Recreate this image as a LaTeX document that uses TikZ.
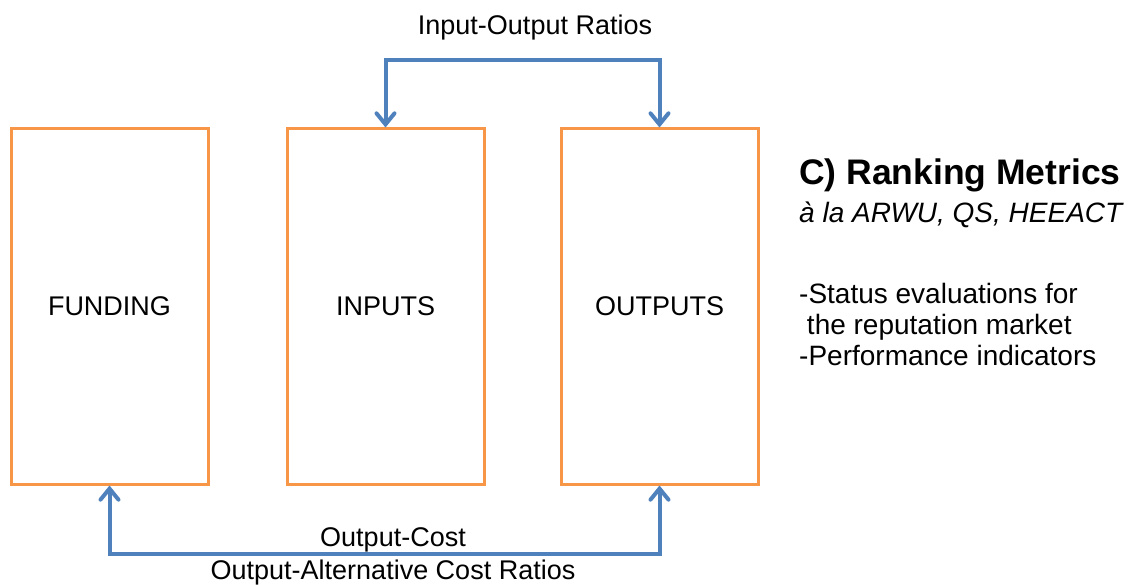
\documentclass[tikz,border=0pt]{standalone}
\usepackage{fontspec}
\setmainfont{Liberation Sans}
\usetikzlibrary{arrows.meta,calc}
\definecolor{boxorange}{HTML}{F79646}
\definecolor{arrblue}{HTML}{4F81BD}
\begin{document}
\begin{tikzpicture}[x=1pt,y=-1pt,
  box/.style={draw=boxorange,line width=3pt,minimum width=197pt,minimum height=355pt,inner sep=0pt,
    font=\fontsize{27}{30}\selectfont},
  arr/.style={draw=arrblue,line width=4pt,
    {Straight Barb[length=11pt,width=18pt,line cap=round]}-{Straight Barb[length=11pt,width=18pt,line cap=round]}},
  lbl/.style={inner sep=0pt,font=\fontsize{27}{30}\selectfont}]
\useasboundingbox (0,0) rectangle (1132,585);
\node[box] (funding) at (109.5,306.5) {FUNDING};
\node[box] (inputs) at (385.5,306.5) {INPUTS};
\node[box] (outputs) at (659.5,306.5) {OUTPUTS};
\coordinate (toplev) at (0,60);
\coordinate (botlev) at (0,554);
\draw[arr] (inputs.north) -- (inputs.north |- toplev) -| (outputs.north);
\draw[arr] (funding.south) -- (funding.south |- botlev) -| (outputs.south);
\node[lbl] (iolabel) at (535,28) {Input-Output Ratios};
\node[lbl] (oclabel) at (393,540) {Output-Cost};
\node[lbl] (oalabel) at (393,573) {Output-Alternative Cost Ratios};
\node[inner sep=0pt,anchor=west,font=\fontsize{35.5}{40}\selectfont\bfseries] (title) at (799,175) {C) Ranking Metrics};
\node[inner sep=0pt,anchor=west,font=\fontsize{28}{30}\selectfont\itshape] (sub) at (799,215) {à la ARWU, QS, HEEACT};
\node[inner sep=0pt,anchor=north west,align=left,font=\fontsize{28}{31}\selectfont] (notes) at (799,283) {-Status evaluations for\\\hspace{0.278em}the reputation market\\-Performance indicators};
\end{tikzpicture}
\end{document}
